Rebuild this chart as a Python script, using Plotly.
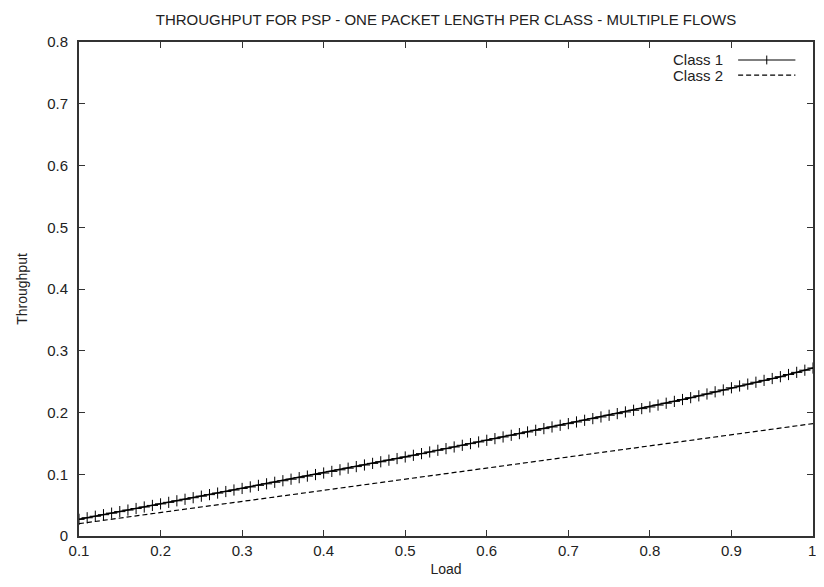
"""
Throughput vs load for PSP, one packet length per class, multiple flows.
"""

import plotly.graph_objects as go

# Load values for class 1 (one point every 0.01)
load_c1 = [
    0.10, 0.11, 0.12, 0.13, 0.14, 0.15, 0.16, 0.17, 0.18, 0.19,
    0.20, 0.21, 0.22, 0.23, 0.24, 0.25, 0.26, 0.27, 0.28, 0.29,
    0.30, 0.31, 0.32, 0.33, 0.34, 0.35, 0.36, 0.37, 0.38, 0.39,
    0.40, 0.41, 0.42, 0.43, 0.44, 0.45, 0.46, 0.47, 0.48, 0.49,
    0.50, 0.51, 0.52, 0.53, 0.54, 0.55, 0.56, 0.57, 0.58, 0.59,
    0.60, 0.61, 0.62, 0.63, 0.64, 0.65, 0.66, 0.67, 0.68, 0.69,
    0.70, 0.71, 0.72, 0.73, 0.74, 0.75, 0.76, 0.77, 0.78, 0.79,
    0.80, 0.81, 0.82, 0.83, 0.84, 0.85, 0.86, 0.87, 0.88, 0.89,
    0.90, 0.91, 0.92, 0.93, 0.94, 0.95, 0.96, 0.97, 0.98, 0.99,
    1.00,
]
throughput_c1 = [
    0.0270, 0.0295, 0.0320, 0.0345, 0.0370, 0.0395, 0.0420, 0.0445, 0.0470, 0.0495,
    0.0520, 0.0545, 0.0570, 0.0595, 0.0620, 0.0645, 0.0670, 0.0695, 0.0720, 0.0745,
    0.0770, 0.0795, 0.0820, 0.0845, 0.0870, 0.0895, 0.0920, 0.0945, 0.0970, 0.0995,
    0.1020, 0.1046, 0.1072, 0.1098, 0.1124, 0.1150, 0.1176, 0.1202, 0.1228, 0.1254,
    0.1280, 0.1307, 0.1334, 0.1361, 0.1388, 0.1415, 0.1442, 0.1469, 0.1496, 0.1523,
    0.1550, 0.1577, 0.1604, 0.1631, 0.1658, 0.1685, 0.1712, 0.1739, 0.1766, 0.1793,
    0.1820, 0.1847, 0.1874, 0.1901, 0.1928, 0.1955, 0.1982, 0.2009, 0.2036, 0.2063,
    0.2090, 0.2120, 0.2150, 0.2180, 0.2210, 0.2240, 0.2270, 0.2300, 0.2335, 0.2365,
    0.2400, 0.2430, 0.2460, 0.2490, 0.2520, 0.2550, 0.2580, 0.2615, 0.2650, 0.2685,
    0.2720,
]

# Class 2 (plain dashed line)
load_c2 = [0.1, 0.2, 0.3, 0.4, 0.5, 0.6, 0.7, 0.8, 0.9, 1.0]
throughput_c2 = [0.020, 0.038, 0.056, 0.074, 0.092, 0.110, 0.128, 0.146, 0.164, 0.182]

x_ticks = [0.1, 0.2, 0.3, 0.4, 0.5, 0.6, 0.7, 0.8, 0.9, 1.0]
x_labels = ["0.1", "0.2", "0.3", "0.4", "0.5", "0.6", "0.7", "0.8", "0.9", "1"]
y_ticks = [0, 0.1, 0.2, 0.3, 0.4, 0.5, 0.6, 0.7, 0.8]
y_labels = ["0", "0.1", "0.2", "0.3", "0.4", "0.5", "0.6", "0.7", "0.8"]

FONT = "Liberation Sans, Arial, sans-serif"
TEXT_COLOR = "#222222"
AXIS_COLOR = "#333333"

fig = go.Figure()

fig.add_trace(go.Scatter(
    x=load_c1, y=throughput_c1,
    mode="lines+markers",
    line=dict(color="black", width=1.5),
    marker=dict(symbol="cross-thin", size=8, line=dict(color="black", width=1)),
    name="Class 1",
    showlegend=False,
))
fig.add_trace(go.Scatter(
    x=load_c2, y=throughput_c2,
    mode="lines",
    line=dict(color="black", width=1.2, dash="5px,3px"),
    name="Class 2",
    showlegend=False,
))

# gnuplot-style key: text on the left, sample on the right
key_rows = [("Class 1", 0.9636, "solid"), ("Class 2", 0.933, "5px,3px")]
for label, ky, dash in key_rows:
    fig.add_annotation(
        text=label, xref="paper", yref="paper",
        x=0.88, y=ky, xanchor="right", yanchor="middle",
        showarrow=False, font=dict(family=FONT, size=15, color=TEXT_COLOR),
    )
    fig.add_shape(
        type="line", xref="paper", yref="paper",
        x0=0.898, x1=0.976, y0=ky, y1=ky,
        line=dict(color="black", width=1.2, dash=dash),
    )
# the "+" in the class 1 sample
fig.add_shape(
    type="line", xref="paper", yref="paper",
    x0=0.937, x1=0.937, y0=0.9636 - 0.009, y1=0.9636 + 0.009,
    line=dict(color="black", width=1),
)

# the last x tick label sits on the figure edge, so place it by hand
fig.add_annotation(
    text=x_labels[-1], xref="x", yref="paper",
    x=x_ticks[-1], y=0, xanchor="center", yanchor="top", xshift=-1, yshift=-4,
    showarrow=False, font=dict(family=FONT, size=15, color=TEXT_COLOR),
)

# page body adds 8px all round; keep the figure inside the visible area
fig.update_layout(
    width=808, height=569,
    margin=dict(l=71, r=3, t=34, b=41, autoexpand=False),
    paper_bgcolor="white", plot_bgcolor="white",
    font=dict(family=FONT, size=15, color=TEXT_COLOR),
    title=dict(
        text="THROUGHPUT FOR PSP - ONE PACKET LENGTH PER CLASS - MULTIPLE FLOWS",
        x=0.5, xref="paper", y=0.979, yanchor="middle",
        font=dict(family=FONT, size=15, color=TEXT_COLOR),
    ),
)

fig.update_xaxes(
    range=[0.1, 1.0],
    tickvals=x_ticks, ticktext=x_labels[:-1] + [""],
    ticks="inside", ticklen=6, tickcolor=AXIS_COLOR, tickwidth=1,
    showline=True, linecolor=AXIS_COLOR, linewidth=2, mirror="ticks",
    showgrid=False, zeroline=False, automargin=False,
    title=dict(text="Load", standoff=7, font=dict(size=14)),
)
fig.update_yaxes(
    range=[0, 0.8],
    tickvals=y_ticks, ticktext=y_labels,
    ticks="inside", ticklen=6, tickcolor=AXIS_COLOR, tickwidth=1,
    ticklabelstandoff=6,
    showline=True, linecolor=AXIS_COLOR, linewidth=2, mirror="ticks",
    showgrid=False, zeroline=False, automargin=False,
    title=dict(text="Throughput", standoff=16, font=dict(size=14)),
)

fig.write_html("out.html")
